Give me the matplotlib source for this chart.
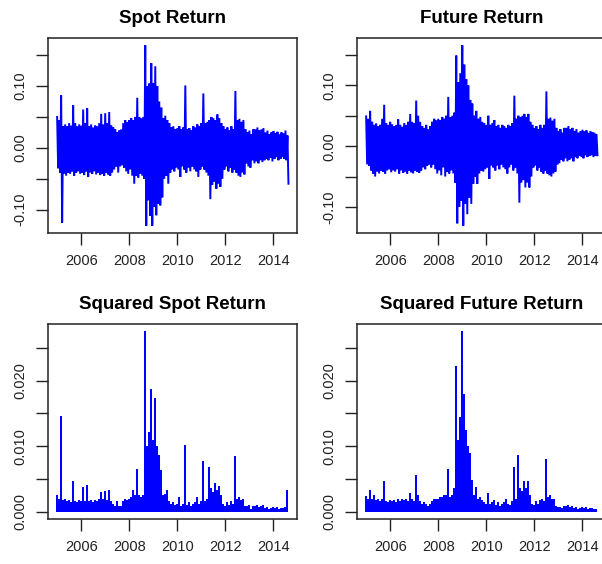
import numpy as np
import matplotlib
matplotlib.use("Agg")
import matplotlib.pyplot as plt

plt.rcParams['font.family'] = ['Liberation Sans', 'DejaVu Sans']

# monthly extremes of daily log returns, Jan 2005 .. Aug 2014
spot_hi = [.050, .045, .085, .035, .038, .035, .040, .036, .069, .040,
           .035, .038, .036, .062, .040, .064, .035, .038, .033, .036,
           .035, .040, .055, .038, .056, .040, .058, .036, .033, .030,
           .025, .028, .030, .040, .045, .042, .045, .048, .045, .050,
           .081, .050, .048, .050, .166, .100, .104, .137, .105, .132,
           .100, .075, .065, .048, .052, .045, .040, .033, .035, .030,
           .032, .035, .030, .033, .101, .030, .032, .028, .035, .033,
           .038, .035, .040, .088, .040, .042, .045, .050, .048, .045,
           .054, .048, .040, .035, .030, .033, .028, .035, .030, .092,
           .045, .047, .042, .045, .030, .025, .028, .022, .030, .030,
           .033, .028, .030, .032, .025, .028, .022, .025, .027, .024,
           .026, .022, .025, .023, .028, .020]
spot_lo = [-.033, -.040, -.121, -.042, -.045, -.040, -.042, -.038, -.045, -.040,
           -.038, -.042, -.040, -.044, -.038, -.047, -.040, -.042, -.038, -.043,
           -.040, -.044, -.042, -.045, -.040, -.043, -.045, -.040, -.035, -.030,
           -.040, -.030, -.028, -.032, -.038, -.042, -.035, -.045, -.058, -.045,
           -.048, -.042, -.045, -.050, -.126, -.085, -.110, -.126, -.095, -.109,
           -.090, -.093, -.080, -.050, -.045, -.058, -.040, -.035, -.038, -.032,
           -.035, -.047, -.030, -.035, -.040, -.032, -.038, -.030, -.035, -.038,
           -.047, -.035, -.030, -.035, -.040, -.045, -.083, -.060, -.055, -.066,
           -.058, -.063, -.050, -.035, -.030, -.038, -.032, -.040, -.035, -.040,
           -.045, -.047, -.040, -.043, -.025, -.030, -.032, -.020, -.025, -.022,
           -.025, -.020, -.023, -.020, -.018, -.020, -.016, -.022, -.018, -.015,
           -.020, -.018, -.015, -.018, -.020, -.058]
fut_hi = [.049, .045, .058, .040, .035, .037, .033, .035, .045, .068,
          .038, .035, .040, .036, .033, .035, .044, .035, .032, .038,
          .035, .040, .053, .040, .038, .075, .050, .040, .033, .030,
          .035, .028, .033, .040, .045, .042, .045, .043, .048, .045,
          .050, .081, .048, .050, .055, .149, .105, .120, .166, .134,
          .110, .100, .076, .070, .050, .058, .045, .048, .040, .038,
          .035, .050, .035, .038, .043, .033, .035, .030, .035, .033,
          .030, .035, .033, .038, .083, .045, .050, .048, .050, .053,
          .048, .053, .040, .035, .030, .033, .028, .035, .030, .035,
          .090, .045, .047, .042, .045, .030, .025, .028, .022, .030,
          .030, .033, .028, .030, .025, .028, .022, .025, .027, .024,
          .026, .022, .025, .023, .022, .020]
fut_lo = [-.030, -.032, -.040, -.045, -.050, -.042, -.045, -.040, -.042, -.045,
          -.040, -.038, -.043, -.040, -.042, -.038, -.045, -.040, -.044, -.042,
          -.045, -.040, -.043, -.045, -.040, -.042, -.044, -.040, -.035, -.038,
          -.032, -.030, -.035, -.030, -.038, -.045, -.040, -.048, -.035, -.050,
          -.042, -.045, -.040, -.045, -.060, -.127, -.100, -.090, -.131, -.095,
          -.112, -.085, -.095, -.062, -.050, -.062, -.045, -.040, -.042, -.038,
          -.035, -.054, -.032, -.035, -.040, -.032, -.038, -.030, -.035, -.038,
          -.045, -.035, -.030, -.040, -.035, -.045, -.093, -.060, -.056, -.068,
          -.060, -.068, -.050, -.035, -.032, -.040, -.035, -.042, -.045, -.040,
          -.045, -.048, -.050, -.045, -.042, -.030, -.028, -.022, -.025, -.020,
          -.025, -.022, -.020, -.025, -.018, -.020, -.016, -.018, -.020, -.015,
          -.018, -.016, -.015, -.018, -.016, -.015]
year_ticks = [2006, 2008, 2010, 2012, 2014]

months = 2005 + np.arange(len(spot_hi)) / 12.0
BLUE = '#0000ff'


def style(ax, yticks, ylabels, ylim):
    ax.set_xlim(2004.62, 2014.98)
    ax.set_ylim(*ylim)
    ax.set_xticks(year_ticks)
    ax.set_xticklabels([str(y) for y in year_ticks])
    ax.set_yticks(yticks)
    ax.set_yticklabels(ylabels, rotation=90, va='center')
    ax.tick_params(direction='out', length=8.6, width=1, colors='#222222',
                   labelsize=10.5, pad=6.5)
    ax.tick_params(axis='y', pad=6)
    for s in ax.spines.values():
        s.set_color('#222222')
        s.set_linewidth(1.1)


def returns_panel(ax, hi, lo, title):
    hi = np.asarray(hi)
    lo = np.asarray(lo)
    tx = np.column_stack([months, months + 1 / 24.0]).ravel()
    ty = np.column_stack([hi, lo]).ravel()
    ax.plot(tx, ty, color=BLUE, lw=1.4, solid_joinstyle='miter')
    r = ty.max() - ty.min()
    style(ax, [-0.10, -0.05, 0.0, 0.05, 0.10, 0.15],
          ['-0.10', '', '0.00', '', '0.10', ''],
          (ty.min() - 0.04 * r, ty.max() + 0.04 * r))
    ax.set_title(title, fontsize=13.5, fontweight='bold', pad=11)


def squared_panel(ax, hi, lo, title):
    sq = np.maximum(np.asarray(hi) ** 2, np.asarray(lo) ** 2)
    ax.vlines(months, 0, sq, color=BLUE, lw=1.45)
    r = sq.max()
    style(ax, [0.0, 0.005, 0.010, 0.015, 0.020, 0.025],
          ['0.000', '', '0.010', '', '0.020', ''],
          (-0.04 * r, sq.max() + 0.04 * r))
    ax.set_title(title, fontsize=13.5, fontweight='bold', pad=11)


fig = plt.figure(figsize=(6.02, 5.64), dpi=100)
W, H = 602.0, 564.0
aw, ah = 249 / W, 195 / H
ax1 = fig.add_axes([48 / W, 1 - 233 / H, aw, ah])
ax2 = fig.add_axes([357 / W, 1 - 233 / H, aw, ah])
ax3 = fig.add_axes([48 / W, 1 - 519 / H, aw, ah])
ax4 = fig.add_axes([357 / W, 1 - 519 / H, aw, ah])

returns_panel(ax1, spot_hi, spot_lo, 'Spot Return')
returns_panel(ax2, fut_hi, fut_lo, 'Future Return')
squared_panel(ax3, spot_hi, spot_lo, 'Squared Spot Return')
squared_panel(ax4, fut_hi, fut_lo, 'Squared Future Return')

# the right-hand boxes run past the edge of the picture
ax2.spines['right'].set_visible(False)
ax4.spines['right'].set_visible(False)

fig.savefig('out.png', dpi=100)
